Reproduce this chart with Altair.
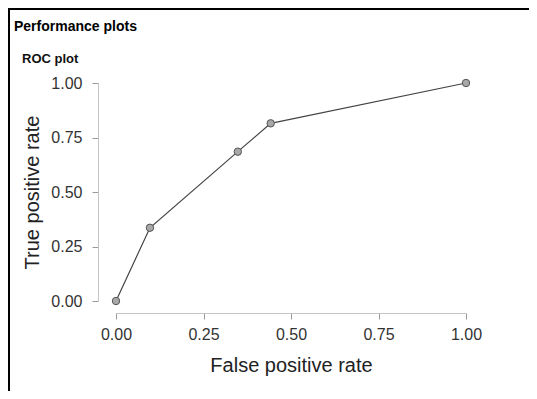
import altair as alt
import pandas as pd

# ROC curve points
fpr = [0.0, 0.097, 0.348, 0.442, 1.0]
tpr = [0.0, 0.336, 0.685, 0.815, 1.0]
tick_values = [0.0, 0.25, 0.5, 0.75, 1.0]

df = pd.DataFrame({"fpr": fpr, "tpr": tpr})

FONT = "Liberation Sans"
W, H = 350, 218
PAD = {"left": 108, "top": 75, "right": 63, "bottom": 90}

axis_common = dict(
    values=tick_values,
    format=".2f",
    grid=False,
    domainColor="#c4c4c4",
    tickColor="#9a9a9a",
    tickSize=6,
    labelFont=FONT,
    labelFontSize=16,
    labelColor="#333333",
    labelOverlap=False,
    labelFlush=False,
    titleFont=FONT,
    titleFontSize=20,
    titleFontWeight="normal",
    titleColor="#222222",
)

x_enc = alt.X(
    "fpr:Q",
    scale=alt.Scale(domain=[0, 1], nice=False, zero=False),
    axis=alt.Axis(title="False positive rate", offset=12, labelPadding=7,
                  titlePadding=13, **axis_common),
)
y_enc = alt.Y(
    "tpr:Q",
    scale=alt.Scale(domain=[0, 1], nice=False, zero=False),
    axis=alt.Axis(title="True positive rate", offset=18, labelPadding=10,
                  titlePadding=8, **axis_common),
)

base = alt.Chart(df).encode(x=x_enc, y=y_enc)
line = base.mark_line(color="#444444", strokeWidth=1.2)
points = base.mark_circle(size=55, color="#a8a8a8", opacity=1,
                          stroke="#555555", strokeWidth=1)

one = alt.Data(values=[{}])
title1 = alt.Chart(one).mark_text(
    text="Performance plots", align="left", baseline="alphabetic",
    font=FONT, fontSize=14, fontWeight="bold", color="#000000"
).encode(x=alt.value(-102), y=alt.value(-52))
title2 = alt.Chart(one).mark_text(
    text="ROC plot", align="left", baseline="alphabetic",
    font=FONT, fontSize=13, fontWeight="bold", color="#111111"
).encode(x=alt.value(-94), y=alt.value(-20))

# frame lines along the top and left edges
border_top = alt.Chart(one).mark_rect(color="#000000").encode(
    x=alt.value(-108), x2=alt.value(W + PAD["right"]), y=alt.value(-75), y2=alt.value(-73)
)
border_left = alt.Chart(one).mark_rule(color="#000000", strokeWidth=2).encode(
    x=alt.value(-107), x2=alt.value(-107), y=alt.value(-75), y2=alt.value(H + PAD["bottom"])
)

chart = alt.layer(line, points, title1, title2, border_top, border_left).properties(
    width=W, height=H,
    autosize=alt.AutoSizeParams(type="none"),
    padding=PAD,
    background="white",
).configure_view(stroke=None)

chart.save("out.html", embed_options={"renderer": "svg", "actions": False})
